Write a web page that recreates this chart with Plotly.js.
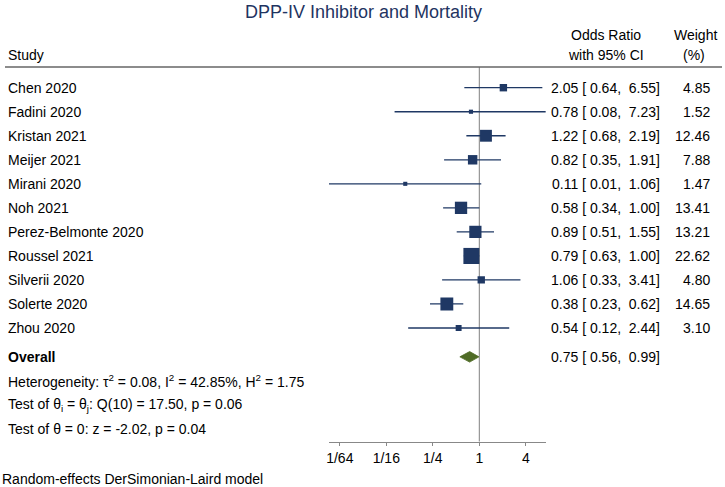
<!DOCTYPE html>
<html>
<head>
<meta charset="utf-8">
<script src="https://cdn.plot.ly/plotly-3.0.1.min.js"></script>
<style>html,body{margin:0;padding:0;background:#fff;}#chart{width:725px;height:487px;}</style>
</head>
<body>
<div id="chart"></div>
<script>
// ---- data ----
const studies = ["Chen 2020","Fadini 2020","Kristan 2021","Meijer 2021","Mirani 2020","Noh 2021","Perez-Belmonte 2020","Roussel 2021","Silverii 2020","Solerte 2020","Zhou 2020"];
const oddsRatio = [2.05,0.78,1.22,0.82,0.11,0.58,0.89,0.79,1.06,0.38,0.54];
const ciLow = [0.64,0.08,0.68,0.35,0.01,0.34,0.51,0.63,0.33,0.23,0.12];
const ciHigh = [6.55,7.23,2.19,1.91,1.06,1.00,1.55,1.00,3.41,0.62,2.44];
const weights = [4.85,1.52,12.46,7.88,1.47,13.41,13.21,22.62,4.80,14.65,3.10];
const overallLabel = "Overall";
const overallOR = 0.75;
const overallLow = 0.56;
const overallHigh = 0.99;
const statLines = [
  "Heterogeneity: τ<sup>2</sup> = 0.08, I<sup>2</sup> = 42.85%, H<sup>2</sup> = 1.75",
  "Test of θ<sub>i</sub> = θ<sub>j</sub>: Q(10) = 17.50, p = 0.06",
  "Test of θ = 0: z = -2.02, p = 0.04"
];
const tickVals = [1/64,1/16,1/4,1,4];
const tickText = ["1/64","1/16","1/4","1","4"];
const titleText = "DPP-IV Inhibitor and Mortality";
const footerText = "Random-effects DerSimonian-Laird model";

// ---- layout helpers ----
const W = 725, H = 487;
const FONT = "Liberation Sans, Arial, sans-serif";
const NAVY = "#1f3864";
const GREEN = "#4f6b26";
const rowPx = 24.03, row0Px = 87.7, axisPx = 441.7;
const overallRow = studies.length + 0.2;
const statRows = statLines.map((s, k) => overallRow + 1 + k);
const NB = "\u00a0";
function fmt(v){ const s = v.toFixed(2); return (s.length < 5 ? NB : "") + s; }
function ciText(o, l, h){ return o.toFixed(2) + NB + "[" + fmt(l) + "," + NB + fmt(h) + "]"; }

const yTop = -row0Px / rowPx;
const yBot = (axisPx - row0Px) / rowPx;
const xLeftPx = 329, xRightPx = 546, onePx = 479.3, pxPerLog2 = 23.25;
const xr = [ (xLeftPx-onePx)/pxPerLog2*Math.log10(2), (xRightPx-onePx)/pxPerLog2*Math.log10(2) ];

// ---- traces ----
const segX = [], segY = [];
studies.forEach((s, i) => { segX.push(ciLow[i], ciHigh[i], null); segY.push(i, i, null); });
const rows = studies.map((s, i) => i);

const traces = [
  { type:"scatter", mode:"lines", x:[1,1], y:[(67-row0Px)/rowPx, yBot],
    line:{color:"#808080", width:1}, hoverinfo:"skip", cliponaxis:false },
  { type:"scatter", mode:"lines", x:segX, y:segY, line:{color:NAVY, width:1.3}, hoverinfo:"skip" },
  { type:"scatter", mode:"markers", x:oddsRatio, y:rows,
    marker:{symbol:"square", color:NAVY, opacity:1, size:weights.map(w => 3.36*Math.sqrt(w)), line:{width:0}} },
  { type:"scatter", mode:"lines", fill:"toself", fillcolor:GREEN,
    x:[overallLow, overallOR, overallHigh, overallOR, overallLow],
    y:[overallRow, overallRow-0.22, overallRow, overallRow+0.22, overallRow],
    line:{color:GREEN, width:0.8}, hoverinfo:"skip" }
];

// ---- annotations ----
const ann = [];
const txt = (text, xpx, y, anchor, extra) => Object.assign({
  text, x:xpx/W, xref:"paper", y, yref:"y", xanchor:anchor, yanchor:"middle",
  showarrow:false, font:{family:FONT, size:14, color:"#000"}
}, extra||{});
studies.forEach((s, i) => {
  ann.push(txt(s, 6, i, "left"));
  ann.push(txt(ciText(oddsRatio[i], ciLow[i], ciHigh[i]), 662, i, "right"));
  ann.push(txt(weights[i].toFixed(2), 712, i, "right"));
});
ann.push(txt("<b>" + overallLabel + "</b>", 6, overallRow, "left"));
ann.push(txt(ciText(overallOR, overallLow, overallHigh), 662, overallRow, "right"));
statLines.forEach((s, k) => ann.push(txt(s, 6, statRows[k], "left")));
const ptxt = (text, xpx, ypx, anchor, extra) => Object.assign({
  text, x:xpx/W, xref:"paper", y:1-ypx/H, yref:"paper", xanchor:anchor, yanchor:"middle",
  showarrow:false, font:{family:FONT, size:14, color:"#000"}
}, extra||{});
ann.push(ptxt("Study", 6, 55, "left"));
ann.push(ptxt("Odds Ratio", 606, 35, "center"));
ann.push(ptxt("with 95% CI", 606, 55, "center"));
ann.push(ptxt("Weight", 695, 35, "center"));
ann.push(ptxt("(%)", 694, 55, "center"));
ann.push(ptxt(footerText, 0, 479, "left"));
ann.push(ptxt(titleText, 364, 12, "center", {font:{family:FONT, size:18, color:"#1f3461"}}));

const layout = {
  width:W, height:H, margin:{l:0,r:0,t:0,b:0}, showlegend:false,
  paper_bgcolor:"#fff", plot_bgcolor:"#fff",
  xaxis:{ type:"log", range:xr, domain:[xLeftPx/W, xRightPx/W], showline:true, linecolor:"#888", linewidth:1.3,
    ticks:"outside", ticklen:3, tickcolor:"#888", tickwidth:1, tickvals:tickVals, ticktext:tickText,
    tickfont:{family:FONT, size:14, color:"#000"}, showgrid:false, zeroline:false, fixedrange:true },
  yaxis:{ range:[yBot, yTop], domain:[1-axisPx/H, 1], visible:false, showgrid:false, zeroline:false, fixedrange:true },
  shapes:[ { type:"line", xref:"paper", yref:"paper", x0:5/W, x1:722/W, y0:1-67/H, y1:1-67/H,
    line:{color:"#666", width:1.5} } ],
  annotations: ann
};
Plotly.newPlot("chart", traces, layout, {staticPlot:true, displayModeBar:false});
</script>
</body>
</html>
